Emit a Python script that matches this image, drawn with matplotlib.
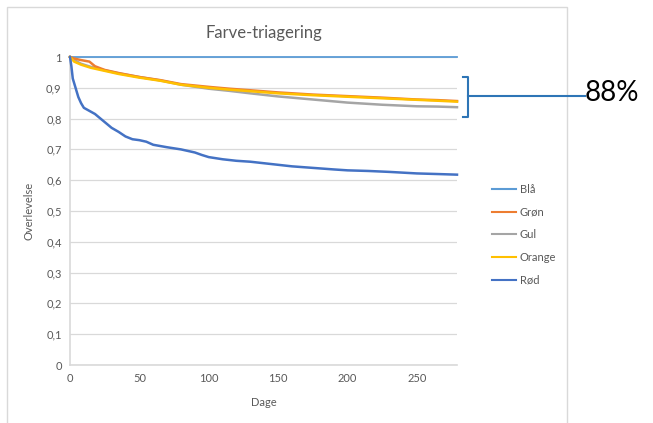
import matplotlib.pyplot as plt
from matplotlib.patches import Rectangle
from matplotlib.lines import Line2D

plt.rcParams['font.family'] = ['Lato', 'DejaVu Sans']

# estimated values (survival)
blaa_dage = [0, 279]
blaa = [1.0, 1.0]

groen_dage = [0, 3, 8, 14, 18, 25, 35, 50, 65, 80, 100, 115, 130, 150, 175, 200, 225, 250, 265, 279]
groen = [1.0, 0.995, 0.99, 0.985, 0.97, 0.958, 0.948, 0.935, 0.925, 0.912, 0.903, 0.897, 0.892, 0.885, 0.878, 0.873, 0.868, 0.862, 0.86, 0.857]

gul_dage = [0, 3, 8, 15, 25, 35, 50, 65, 80, 100, 115, 130, 150, 175, 200, 225, 250, 265, 279]
gul = [1.0, 0.99, 0.978, 0.968, 0.957, 0.947, 0.935, 0.924, 0.91, 0.897, 0.89, 0.882, 0.872, 0.862, 0.852, 0.845, 0.84, 0.839, 0.837]

orange_dage = [0, 3, 8, 15, 25, 35, 50, 65, 80, 100, 115, 130, 150, 175, 200, 225, 250, 265, 279]
orange = [1.0, 0.985, 0.975, 0.965, 0.955, 0.945, 0.933, 0.923, 0.91, 0.9, 0.894, 0.889, 0.882, 0.876, 0.871, 0.866, 0.861, 0.858, 0.855]

roed_dage = [0, 1, 2, 4, 6, 8, 10, 14, 18, 22, 26, 30, 35, 40, 45, 50, 55, 60, 70, 80, 90, 95, 100, 110, 120, 130, 140, 150, 160, 175, 190, 200, 215, 230, 250, 265, 279]
roed = [1.0, 0.97, 0.93, 0.9, 0.87, 0.85, 0.835, 0.825, 0.815, 0.8, 0.785, 0.77, 0.757, 0.742, 0.733, 0.73, 0.725, 0.715, 0.707, 0.7, 0.69, 0.682, 0.675, 0.668, 0.663, 0.66, 0.655, 0.65, 0.645, 0.64, 0.635, 0.632, 0.63, 0.627, 0.622, 0.62, 0.618]

serier = ['Blå', 'Grøn', 'Gul', 'Orange', 'Rød']
farver = ['#5B9BD5', '#ED7D31', '#A5A5A5', '#FFC000', '#4472C4']

y_ticks = [0, 0.1, 0.2, 0.3, 0.4, 0.5, 0.6, 0.7, 0.8, 0.9, 1]
y_labels = ['0', '0,1', '0,2', '0,3', '0,4', '0,5', '0,6', '0,7', '0,8', '0,9', '1']
x_ticks = [0, 50, 100, 150, 200, 250]

fig = plt.figure(figsize=(6.53, 4.23), dpi=100)
ax = fig.add_axes([70 / 653, 58 / 423, 387 / 653, 308 / 423])

data = [(blaa_dage, blaa), (groen_dage, groen), (gul_dage, gul), (orange_dage, orange), (roed_dage, roed)]
# Gul and Grøn under Orange like the original
for i in [0, 2, 1, 3, 4]:
    d, v = data[i]
    ax.plot(d, v, color=farver[i], lw=1.8 if i != 0 else 1.3, label=serier[i],
            zorder=3, clip_on=False, solid_joinstyle='round')

ax.set_xlim(0, 279)
ax.set_ylim(0, 1)
ax.set_yticks(y_ticks)
ax.set_yticklabels(y_labels)
ax.set_xticks(x_ticks)
ax.tick_params(length=0, labelsize=8, labelcolor='#595959', pad=6)
ax.grid(axis='y', color='#D9D9D9', lw=0.9)
ax.set_axisbelow(True)
for s in ['top', 'right']:
    ax.spines[s].set_visible(False)
for s in ['left', 'bottom']:
    ax.spines[s].set_color('#D9D9D9')
    ax.spines[s].set_linewidth(1.2)

ax.set_title('Farve-triagering', fontsize=12, color='#595959', pad=14)
ax.set_xlabel('Dage', fontsize=8, color='#595959', labelpad=9)
ax.set_ylabel('Overlevelse', fontsize=8, color='#595959', labelpad=8)

handles = [Line2D([], [], color=farver[i], lw=1.5) for i in range(5)]
fig.legend(handles, serier, loc='upper left', bbox_to_anchor=(482 / 653, 1 - 174 / 423),
           frameon=False, fontsize=8, labelcolor='#595959', handlelength=2.2,
           handletextpad=0.3, labelspacing=1.05)

# chart area border
fig.patches.append(Rectangle((7 / 653, -0.01), 560 / 653, 1 - 7 / 423 + 0.01, transform=fig.transFigure,
                             fill=False, edgecolor='#D9D9D9', lw=1))

# bracket with 88%
blaa_mork = '#2E75B6'
bx = [463 / 653, 468 / 653, 468 / 653, 463 / 653]
by = [1 - 77 / 423, 1 - 77 / 423, 1 - 117 / 423, 1 - 117 / 423]
fig.add_artist(Line2D(bx, by, color=blaa_mork, lw=1.5, transform=fig.transFigure))
fig.add_artist(Line2D([468 / 653, 585 / 653], [1 - 96 / 423, 1 - 96 / 423], color=blaa_mork, lw=1.5,
                      transform=fig.transFigure))
fig.text(585 / 653, 1 - 93 / 423, '88%', fontsize=20, color='black', va='center', ha='left')

fig.savefig('out.png', dpi=100, facecolor='white')
